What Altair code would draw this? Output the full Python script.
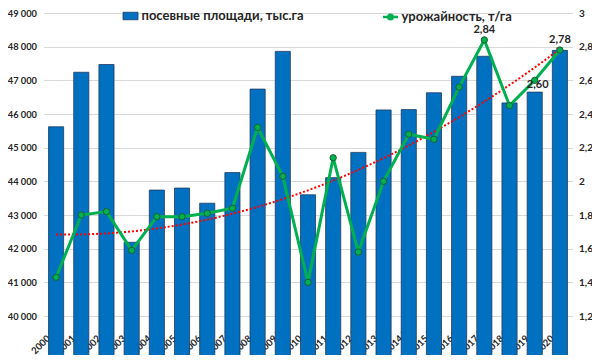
import altair as alt
import pandas as pd

periods = ["2000/01", "2001/02", "2002/03", "2003/04", "2004/05", "2005/06", "2006/07",
           "2007/08", "2008/09", "2009/10", "2010/11", "2011/12", "2012/13", "2013/14",
           "2014/15", "2015/16", "2016/17", "2017/18", "2018/19", "2019/20", "2020/21"]
area = [45620, 47240, 47470, 42190, 43740, 43800, 43350, 44260, 46740, 47860, 43600,
        44110, 44860, 46120, 46130, 46630, 47120, 47715, 46330, 46650, 47890]
yields = [1.43, 1.80, 1.82, 1.59, 1.79, 1.79, 1.81, 1.84, 2.32, 2.03, 1.40,
          2.14, 1.58, 2.00, 2.28, 2.25, 2.56, 2.84, 2.45, 2.60, 2.78]
labels = [""] * 17 + ["2,84", "", "2,60", "2,78"]
label_pos = ["above"] * 19 + ["below", "above"]

bar_name = "посевные площади, тыс.га"
line_name = "урожайность, т/га"

df = pd.DataFrame({
    "period": periods, "area": area, "yield": yields, "idx": list(range(len(periods))),
    "label": labels, "pos": label_pos,
})

FONT = "Lato"
TXT = "#262626"
BLUE = "#0070C0"
GREEN = "#00B050"
RED = "#FF0000"

base = alt.Chart(df)
left_dom = [40000, 49000]
right_dom = [1.2, 3.0]

xband = alt.X("period:N", sort=None, title=None,
              scale=alt.Scale(domain=periods, paddingInner=0.4, paddingOuter=0.2),
              axis=alt.Axis(labelAngle=-45, labelFont=FONT, labelFontWeight="bold",
                            labelFontSize=9.5, labelColor=TXT, ticks=False,
                            domain=False, labelPadding=6, grid=False))
xpt = alt.X("period:N", sort=None, axis=None,
            scale=alt.Scale(type="point", domain=periods, padding=0.5))

bars = base.mark_bar(stroke="#1F3A60", strokeWidth=0.8).transform_calculate(
    series=f"'{bar_name}'"
).encode(
    x=xband,
    y=alt.Y("area:Q", title=None,
            scale=alt.Scale(domain=left_dom, nice=False, zero=False),
            axis=alt.Axis(values=list(range(40000, 49001, 1000)),
                          labelExpr="replace(format(datum.value, ',.0f'), ',', '\u00a0')",
                          labelFont=FONT, labelFontWeight="bold", labelFontSize=9.3,
                          labelColor=TXT, ticks=False, domain=False, labelPadding=7,
                          grid=True, gridColor="#D9D9D9", gridWidth=1,
                          minExtent=35, maxExtent=35)),
    fill=alt.Fill("series:N", scale=alt.Scale(domain=[bar_name], range=[BLUE]),
                  legend=alt.Legend(title=None, orient="none", legendX=79, legendY=-5,
                                    symbolType="M-1,-0.5H1V0.5H-1Z", symbolSize=225,
                                    symbolStrokeColor="#1F3A60", symbolStrokeWidth=0.8,
                                    labelFont=FONT, labelFontWeight="bold", labelFontSize=13,
                                    labelColor=TXT, labelOffset=3, padding=0, labelLimit=400)),
)

yr = alt.Scale(domain=right_dom, nice=False, zero=False)

line = base.mark_line(strokeWidth=3).transform_calculate(
    series=f"'{line_name}'"
).encode(
    x=xpt,
    y=alt.Y("yield:Q", title=None, scale=yr,
            axis=alt.Axis(orient="right", values=[1.2, 1.4, 1.6, 1.8, 2.0, 2.2, 2.4, 2.6, 2.8, 3.0],
                          labelExpr="replace(format(datum.value, '.2~f'), '.', ',')",
                          labelFont=FONT, labelFontWeight="bold", labelFontSize=10,
                          labelColor=TXT, ticks=False, domain=False, labelPadding=6,
                          grid=False)),
    stroke=alt.Stroke("series:N", scale=alt.Scale(domain=[line_name], range=[GREEN]),
                      legend=alt.Legend(title=None, orient="none", legendX=338, legendY=-5,
                                        symbolType="M-1,0H-0.3M0.3,0H1M-0.3,0A0.3,0.3 0 1,1 0.3,0A0.3,0.3 0 1,1 -0.3,0",
                                        symbolSize=225, symbolStrokeWidth=2.5,
                                        symbolFillColor=GREEN,
                                        labelFont=FONT, labelFontWeight="bold", labelFontSize=13,
                                        labelColor=TXT, labelOffset=2, padding=0, labelLimit=400)),
)

points = base.mark_point(filled=True, size=40, fill=GREEN, stroke="#1B5E32",
                         strokeWidth=1, opacity=1).encode(
    x=xpt,
    y=alt.Y("yield:Q", scale=yr, axis=None),
)

txt_above = base.mark_text(font=FONT, fontWeight="bold", fontSize=11, color=TXT,
                           dy=-10).transform_filter(
    "datum.label != '' && datum.pos == 'above'"
).encode(x=xpt, y=alt.Y("yield:Q", scale=yr, axis=None), text="label:N")

txt_below = base.mark_text(font=FONT, fontWeight="bold", fontSize=11, color=TXT,
                           dy=5, dx=3).transform_filter(
    "datum.label != '' && datum.pos == 'below'"
).encode(x=xpt, y=alt.Y("yield:Q", scale=yr, axis=None), text="label:N")

xq = alt.X("idx:Q", scale=alt.Scale(domain=[-0.5, len(periods) - 0.5], nice=False, zero=False),
           axis=None)

trend = base.transform_regression(
    "idx", "yield", method="poly", order=2, extent=[0, len(periods) - 1]
).mark_line(color=RED, strokeWidth=2, strokeDash=[2, 2]).encode(
    x=xq, y=alt.Y("yield:Q", scale=yr, axis=None)
)

arrow = base.transform_regression(
    "idx", "yield", method="poly", order=2, extent=[0, len(periods) - 1]
).transform_filter(f"datum.idx >= {len(periods) - 1} - 0.001").mark_point(
    shape="triangle-up", filled=True, color=RED, size=40, angle=58, opacity=1
).encode(x=xq, y=alt.Y("yield:Q", scale=yr, axis=None))

chart = alt.layer(bars, trend, arrow, line, points, txt_above, txt_below).resolve_scale(
    x="independent", y="independent", fill="independent", stroke="independent"
).properties(
    width=529, height=303,
    autosize=alt.AutoSizeParams(type="none"),
    padding={"left": 35.5, "top": 5, "right": 19.5, "bottom": 39},
).configure_view(stroke=None)

chart.save("out.html", embed_options={"renderer": "svg", "actions": False})
